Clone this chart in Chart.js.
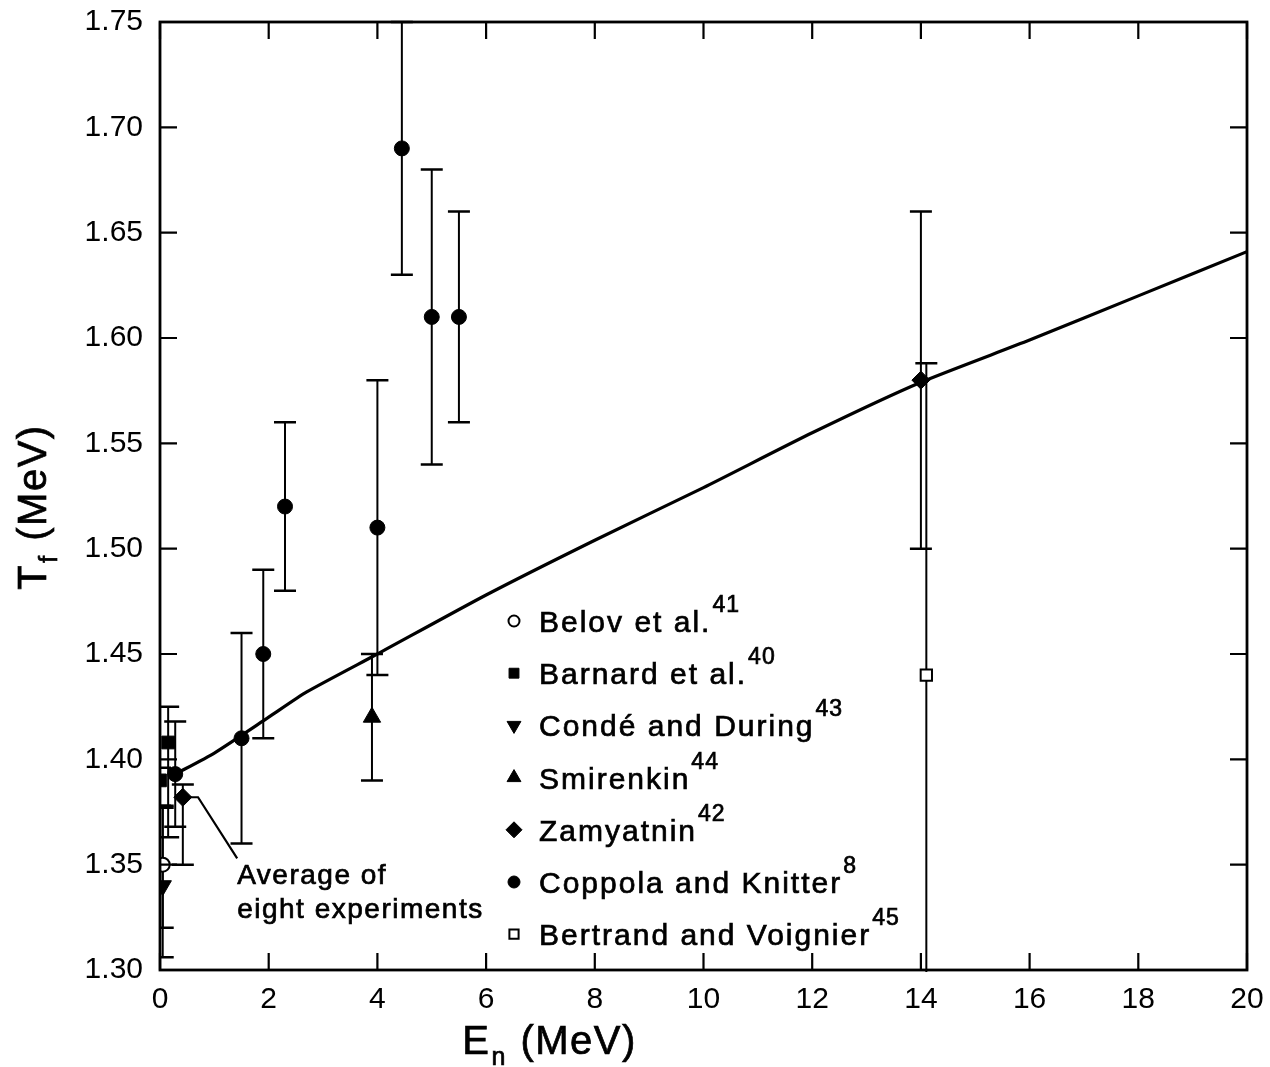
<!DOCTYPE html>
<html>
<head>
<meta charset="utf-8">
<script src="https://cdn.jsdelivr.net/npm/chart.js@4.4.1/dist/chart.umd.min.js"></script>
<style>
  html, body { margin: 0; padding: 0; background: #fff; }
  canvas { display: block; }
</style>
</head>
<body>
<canvas id="tfChart" width="1270" height="1067"></canvas>
<script>
// Fission-neutron temperature T_f against incident neutron energy E_n.
// Each experiment: energies, temperatures, error bar low / high ends.
const BELOV_E = [0.05];
const BELOV_T = [1.35];
const BELOV_LO = [1.32];
const BELOV_HI = [1.378];

const BARNARD_E = [0.0, 0.15];
const BARNARD_T = [1.39, 1.408];
const BARNARD_LO = [1.378, 1.363];
const BARNARD_HI = [1.396, 1.425];

const CONDE_E = [0.05];
const CONDE_T = [1.34];
const CONDE_LO = [1.306];
const CONDE_HI = [1.377];

const SMIRENKIN_E = [3.9];
const SMIRENKIN_T = [1.42];
const SMIRENKIN_LO = [1.39];
const SMIRENKIN_HI = [1.45];

const ZAMYATNIN_E = [0.42, 14.0];
const ZAMYATNIN_T = [1.382, 1.58];
const ZAMYATNIN_LO = [1.35, 1.50];
const ZAMYATNIN_HI = [1.388, 1.66];

const COPPOLA_E = [0.28, 1.5, 1.9, 2.3, 4.0, 4.45, 5.0, 5.5];
const COPPOLA_T = [1.393, 1.41, 1.45, 1.52, 1.51, 1.69, 1.61, 1.61];
const COPPOLA_LO = [1.368, 1.36, 1.41, 1.48, 1.44, 1.63, 1.54, 1.56];
const COPPOLA_HI = [1.418, 1.46, 1.49, 1.56, 1.58, 1.75, 1.68, 1.66];

const BERTRAND_E = [14.1];
const BERTRAND_T = [1.44];
const BERTRAND_LO = [1.29];
const BERTRAND_HI = [1.588];

// calculated curve
const CURVE_E = [0.28, 1, 2, 2.7, 4, 6, 8, 10, 12, 14, 16, 18, 20];
const CURVE_T = [1.393, 1.403, 1.42, 1.432, 1.45, 1.478, 1.504, 1.529, 1.555, 1.579, 1.599, 1.62, 1.641];

const SERIES_NAMES = ["Belov et al.", "Barnard et al.", "Condé and During", "Smirenkin",
  "Zamyatnin", "Coppola and Knitter", "Bertrand and Voignier"];
const SERIES_REFS = ["41", "40", "43", "44", "42", "8", "45"];

const X_TICK_STEP = 2;
const Y_TICK_STEP = 0.05;

// "Average of eight experiments" leader line and text anchor
const NOTE_PATH_E = [1.42, 0.70, 0.47];
const NOTE_PATH_T = [1.353, 1.382, 1.382];
const NOTE_LINES = ["Average of", "eight experiments"];
const NOTE_AT = [1.42, 1.341];

const FONT = '"Liberation Sans", Arial, sans-serif';

function pts(xs, ys) {
  return xs.map((x, i) => ({ x, y: ys[i] }));
}

function series(label, xs, ys, lo, hi, style) {
  return Object.assign({
    label,
    data: pts(xs, ys),
    errLo: lo,
    errHi: hi,
    borderColor: "#000",
    backgroundColor: "#000",
    borderWidth: 1,
    pointRotation: 0,
  }, style);
}

const datasets = [
  series(SERIES_NAMES[0], BELOV_E, BELOV_T, BELOV_LO, BELOV_HI,
    { pointStyle: "circle", pointRadius: 7, backgroundColor: "#fff", borderWidth: 2 }),
  series(SERIES_NAMES[1], BARNARD_E, BARNARD_T, BARNARD_LO, BARNARD_HI,
    { pointStyle: "rect", pointRadius: 9 }),
  series(SERIES_NAMES[2], CONDE_E, CONDE_T, CONDE_LO, CONDE_HI,
    { pointStyle: "triangle", pointRotation: 180, pointRadius: 10 }),
  series(SERIES_NAMES[3], SMIRENKIN_E, SMIRENKIN_T, SMIRENKIN_LO, SMIRENKIN_HI,
    { pointStyle: "triangle", pointRadius: 10 }),
  series(SERIES_NAMES[4], ZAMYATNIN_E, ZAMYATNIN_T, ZAMYATNIN_LO, ZAMYATNIN_HI,
    { pointStyle: "rectRot", pointRadius: 9 }),
  series(SERIES_NAMES[5], COPPOLA_E, COPPOLA_T, COPPOLA_LO, COPPOLA_HI,
    { pointStyle: "circle", pointRadius: 7.5 }),
  series(SERIES_NAMES[6], BERTRAND_E, BERTRAND_T, BERTRAND_LO, BERTRAND_HI,
    { pointStyle: "rect", pointRadius: 8, backgroundColor: "#fff", borderWidth: 2 }),
  {
    type: "line",
    label: "curve",
    data: pts(CURVE_E, CURVE_T),
    borderColor: "#000",
    borderWidth: 3.2,
    pointRadius: 0,
    showLine: true,
    tension: 0.2,
    fill: false,
  },
];

// legend marker sizes are a bit smaller than the plotted ones
const LEGEND_RADIUS = [5.5, 7, 8, 8, 8, 6, 6.5];

function drawMarker(ctx, ds, x, y, radius) {
  ctx.save();
  ctx.fillStyle = ds.backgroundColor;
  ctx.strokeStyle = ds.borderColor;
  ctx.lineWidth = ds.borderWidth;
  Chart.helpers.drawPoint(ctx, {
    pointStyle: ds.pointStyle,
    radius,
    rotation: ds.pointRotation || 0,
    borderWidth: ds.borderWidth,
  }, x, y);
  ctx.restore();
}

// text with a thin outline so it reads as heavy as lettering-guide type
function inkText(ctx, s, x, y) {
  ctx.fillText(s, x, y);
  ctx.lineWidth = 0.7;
  ctx.strokeText(s, x, y);
}

const errorBars = {
  id: "errorBars",
  beforeDatasetsDraw(chart) {
    const { ctx, chartArea: a, scales: { x, y } } = chart;
    ctx.save();
    ctx.beginPath();
    ctx.rect(a.left, a.top - 2, a.right - a.left, a.bottom - a.top + 4);
    ctx.clip();
    ctx.strokeStyle = "#000";
    chart.data.datasets.forEach((ds) => {
      if (!ds.errLo) return;
      ds.data.forEach((p, i) => {
        const px = x.getPixelForValue(p.x);
        const top = y.getPixelForValue(ds.errHi[i]);
        const bot = y.getPixelForValue(ds.errLo[i]);
        ctx.lineWidth = 2;
        ctx.beginPath();
        ctx.moveTo(px, top);
        ctx.lineTo(px, bot);
        ctx.stroke();
        ctx.lineWidth = 2.5;
        ctx.beginPath();
        ctx.moveTo(px - 11, top);
        ctx.lineTo(px + 11, top);
        ctx.moveTo(px - 11, bot);
        ctx.lineTo(px + 11, bot);
        ctx.stroke();
      });
    });
    ctx.restore();
  },
};

const frameAndText = {
  id: "frameAndText",
  afterDatasetsDraw(chart) {
    const { ctx, chartArea: a, scales: { x, y } } = chart;
    ctx.save();
    ctx.strokeStyle = "#000";
    ctx.fillStyle = "#000";

    // box frame with inward ticks on all four sides
    ctx.lineWidth = 2.8;
    ctx.strokeRect(a.left, a.top, a.right - a.left, a.bottom - a.top);
    ctx.lineWidth = 2.2;
    const tl = 17;
    ctx.beginPath();
    x.ticks.forEach((t, i) => {
      const px = x.getPixelForTick(i);
      ctx.moveTo(px, a.bottom); ctx.lineTo(px, a.bottom - tl);
      ctx.moveTo(px, a.top); ctx.lineTo(px, a.top + tl);
    });
    y.ticks.forEach((t, i) => {
      const py = y.getPixelForTick(i);
      ctx.moveTo(a.left, py); ctx.lineTo(a.left + tl, py);
      ctx.moveTo(a.right, py); ctx.lineTo(a.right - tl, py);
    });
    ctx.stroke();

    // legend block inside the plot
    const lx = 514, tx = 539, by0 = 632, step = 52.2;
    ctx.textBaseline = "alphabetic";
    ctx.textAlign = "left";
    chart.data.datasets.forEach((ds, i) => {
      if (!ds.errLo) return;
      const by = by0 + i * step;
      drawMarker(ctx, ds, lx, by - 11, LEGEND_RADIUS[i]);
      ctx.strokeStyle = "#000";
      ctx.font = `30px ${FONT}`;
      ctx.letterSpacing = "2px";
      inkText(ctx, ds.label, tx, by);
      const w = ctx.measureText(ds.label).width;
      ctx.font = `23px ${FONT}`;
      ctx.letterSpacing = "1px";
      inkText(ctx, SERIES_REFS[i], tx + w + 1, by - 20);
    });

    // note with its leader line
    ctx.lineWidth = 2.2;
    ctx.beginPath();
    NOTE_PATH_E.forEach((e, i) => {
      const px = x.getPixelForValue(e);
      const py = y.getPixelForValue(NOTE_PATH_T[i]);
      if (i === 0) ctx.moveTo(px, py); else ctx.lineTo(px, py);
    });
    ctx.stroke();
    ctx.font = `28px ${FONT}`;
    ctx.letterSpacing = "1.5px";
    const nx = x.getPixelForValue(NOTE_AT[0]);
    const ny = y.getPixelForValue(NOTE_AT[1]);
    NOTE_LINES.forEach((s, i) => inkText(ctx, s, nx, ny + i * 34));

    // axis titles with subscripts
    ctx.letterSpacing = "1.5px";
    drawTitle(ctx, "E", "n", " (MeV)", (a.left + a.right) / 2 - 155, 1054, 0);
    drawTitle(ctx, "T", "f", " (MeV)", 46, (a.top + a.bottom) / 2 + 12, -Math.PI / 2);
    ctx.restore();
  },
};

function drawTitle(ctx, main, sub, rest, cx, baseY, angle) {
  ctx.save();
  ctx.translate(cx, baseY);
  if (angle) ctx.rotate(angle);
  const big = `40px ${FONT}`, small = `25px ${FONT}`;
  ctx.font = big;
  const w1 = ctx.measureText(main).width;
  const w3 = ctx.measureText(rest).width;
  ctx.font = small;
  const w2 = ctx.measureText(sub).width;
  const x0 = -(w1 + w2 + w3) / 2;
  ctx.textAlign = "left";
  ctx.textBaseline = "alphabetic";
  ctx.font = big;
  inkText(ctx, main, x0, 0);
  ctx.font = small;
  inkText(ctx, sub, x0 + w1 + 1, 11);
  ctx.font = big;
  inkText(ctx, rest, x0 + w1 + w2 + 2, 0);
  ctx.restore();
}

new Chart(document.getElementById("tfChart"), {
  type: "scatter",
  data: { datasets },
  options: {
    responsive: false,
    animation: false,
    events: [],
    layout: { padding: { top: 22, right: 23, left: 0, bottom: 0 } },
    plugins: { legend: { display: false }, tooltip: { enabled: false } },
    scales: {
      x: {
        type: "linear",
        min: 0,
        max: 20,
        ticks: {
          stepSize: X_TICK_STEP,
          color: "#000",
          padding: 12,
          font: { family: FONT, size: 30 },
        },
        grid: { display: false, drawTicks: false },
        border: { display: false },
        afterFit(s) {
          s.height = 97;
          s.paddingLeft = 0;
          s.paddingRight = 0;
        },
      },
      y: {
        type: "linear",
        min: 1.3,
        max: 1.75,
        ticks: {
          stepSize: Y_TICK_STEP,
          color: "#000",
          padding: 17,
          font: { family: FONT, size: 30 },
          callback: (v) => v.toFixed(2),
        },
        grid: { display: false, drawTicks: false },
        border: { display: false },
        afterFit(s) {
          s.width = 160;
          s.paddingTop = 0;
          s.paddingBottom = 0;
        },
      },
    },
  },
  plugins: [errorBars, frameAndText],
});
</script>
</body>
</html>
